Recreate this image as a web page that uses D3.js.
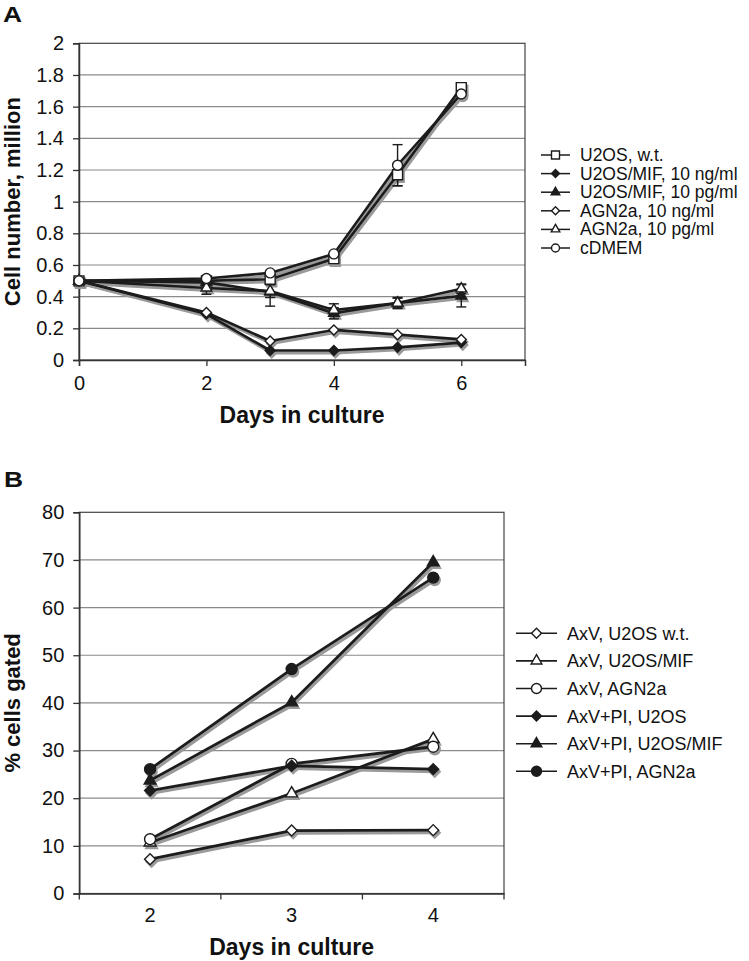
<!DOCTYPE html>
<html><head><meta charset="utf-8">
<script src="https://cdn.jsdelivr.net/npm/d3@7"></script>
<style>
body{margin:0;background:#fff}
text{font-family:"Liberation Sans",Arial,sans-serif;fill:#111}
</style></head><body>
<svg id="c" width="749" height="961"></svg>
<script>
// ---------- Panel A data ----------
const daysA = [0, 2, 3, 4, 5, 6];
const namesA = ["U2OS, w.t.", "U2OS/MIF, 10 ng/ml", "U2OS/MIF, 10 pg/ml", "AGN2a, 10 ng/ml", "AGN2a, 10 pg/ml", "cDMEM"];
const shapesA = ["square", "diamond", "triangle", "diamond", "triangle", "circle"];
const filledA = [false, true, true, false, false, false];
const u2osWT   = [0.50, 0.50, 0.51, 0.64, 1.17, 1.72];
const mif10ng  = [0.50, 0.29, 0.06, 0.06, 0.08, 0.11];
const mif10pg  = [0.50, 0.49, 0.43, 0.295, 0.36, 0.405];
const agn10ng  = [0.50, 0.30, 0.12, 0.19, 0.16, 0.13];
const agn10pg  = [0.50, 0.455, 0.435, 0.315, 0.36, 0.45];
const cdmem    = [0.50, 0.515, 0.55, 0.67, 1.23, 1.68];
const errU2osWT  = [0, 0, 0.02, 0.02, 0.07, 0.02];
const errMif10ng = [0, 0, 0, 0, 0, 0];
const errMif10pg = [0, 0, 0.09, 0.035, 0.03, 0.07];
const errAgn10ng = [0, 0, 0, 0, 0, 0];
const errAgn10pg = [0, 0.04, 0.04, 0.04, 0.035, 0.03];
const errCdmem   = [0, 0, 0, 0, 0.13, 0];
const valuesA = [u2osWT, mif10ng, mif10pg, agn10ng, agn10pg, cdmem];
const errorsA = [errU2osWT, errMif10ng, errMif10pg, errAgn10ng, errAgn10pg, errCdmem];
const yTicksA = [0, 0.2, 0.4, 0.6, 0.8, 1, 1.2, 1.4, 1.6, 1.8, 2];
const xTicksA = [0, 2, 4, 6];

// ---------- Panel B data ----------
const daysB = ["2", "3", "4"];
const namesB = ["AxV, U2OS w.t.", "AxV, U2OS/MIF", "AxV, AGN2a", "AxV+PI, U2OS", "AxV+PI, U2OS/MIF", "AxV+PI, AGN2a"];
const shapesB = ["diamond", "triangle", "circle", "diamond", "triangle", "circle"];
const filledB = [false, false, false, true, true, true];
const axvU2os     = [7.2, 13.2, 13.3];
const axvMif      = [10.7, 21.0, 32.4];
const axvAgn      = [11.4, 27.2, 30.8];
const axvPiU2os   = [21.6, 26.8, 26.1];
const axvPiMif    = [23.7, 40.1, 69.5];
const axvPiAgn    = [26.1, 47.1, 66.3];
const valuesB = [axvU2os, axvMif, axvAgn, axvPiU2os, axvPiMif, axvPiAgn];
const yTicksB = [0, 10, 20, 30, 40, 50, 60, 70, 80];

const svg = d3.select("#c");
svg.append("rect").attr("width", 749).attr("height", 961).attr("fill", "#fff");

const DARK = "#1c1c1c", SHADOW = "#9a9a9a", GRID = "#8a8a8a";

function symPath(shape, s) {
  if (shape === "square") return d3.symbol(d3.symbolSquare, s * s)();
  if (shape === "diamond") return d3.symbol(d3.symbolSquare, s * s / 2)();
  if (shape === "triangle") return d3.symbol(d3.symbolTriangle, s * s * 0.5)();
  return d3.symbol(d3.symbolCircle, Math.PI * s * s / 4)();
}
function drawMarker(g, shape, filled, x, y, s, shadow) {
  const p = g.append("path").attr("d", symPath(shape, s))
    .attr("transform", `translate(${x},${y})` + (shape === "diamond" ? " rotate(45)" : ""));
  if (shadow) p.attr("fill", SHADOW).attr("stroke", SHADOW).attr("stroke-width", 1.5);
  else p.attr("fill", filled ? DARK : "#fff").attr("stroke", DARK).attr("stroke-width", 1.4);
}

// ================= Panel A =================
{
  const L = 79, R = 525, T = 43.3, B = 360;
  const x = d3.scaleLinear().domain([0, 7]).range([L, R]);
  const y = d3.scaleLinear().domain([0, 2]).range([B, T]);
  const g = svg.append("g");

  g.append("text").text("A").attr("x", 3).attr("y", 22).attr("font-size", 22).attr("font-weight", "bold")
    .attr("transform", "translate(3,22) scale(1.2,1) translate(-3,-22)");

  // gridlines
  g.append("g").selectAll("line").data(yTicksA.filter(d => d > 0 && d < 2)).join("line")
    .attr("x1", L).attr("x2", R).attr("y1", d => y(d)).attr("y2", d => y(d))
    .attr("stroke", GRID).attr("stroke-width", 1.2);
  // frame
  g.append("rect").attr("x", L).attr("y", T).attr("width", R - L).attr("height", B - T)
    .attr("fill", "none").attr("stroke", "#444").attr("stroke-width", 1.2);

  const yAxis = d3.axisLeft(y).tickValues(yTicksA).tickSize(6).tickPadding(9).tickFormat(d3.format("~g"));
  const ya = g.append("g").attr("transform", `translate(${L},0)`).call(yAxis);
  const xAxis = d3.axisBottom(x).tickValues(xTicksA).tickSize(6).tickPadding(10).tickFormat(d3.format("d"));
  const xa = g.append("g").attr("transform", `translate(0,${B})`).call(xAxis);
  [ya, xa].forEach(a => {
    a.select(".domain").attr("stroke", "#333").attr("stroke-width", 1.5);
    a.selectAll(".tick line").attr("stroke", "#333").attr("stroke-width", 1.3);
    a.selectAll("text").attr("font-size", 20).attr("fill", "#111").attr("font-family", '"Liberation Sans",Arial,sans-serif');
  });

  g.append("text").text("Days in culture").attr("x", (L + R) / 2).attr("y", 423)
    .attr("text-anchor", "middle").attr("font-size", 23).attr("font-weight", "bold");
  g.append("text").text("Cell number, million").attr("transform", `translate(20,${(T + B) / 2}) rotate(-90)`)
    .attr("text-anchor", "middle").attr("font-size", 22).attr("font-weight", "bold");

  const line = d3.line().x((d, i) => x(daysA[i])).y(d => y(d));
  const off = "translate(1.5,2.5)";
  const sh = g.append("g").attr("transform", off);
  valuesA.forEach((v) => sh.append("path").attr("d", line(v)).attr("fill", "none").attr("stroke", SHADOW).attr("stroke-width", 3));
  valuesA.forEach((v, k) => v.forEach((d, i) => drawMarker(sh, shapesA[k], filledA[k], x(daysA[i]), y(d), 10, true)));
  valuesA.forEach((v) => g.append("path").attr("d", line(v)).attr("fill", "none").attr("stroke", DARK).attr("stroke-width", 2.6).attr("stroke-linejoin", "round"));
  const eg = g.append("g").attr("stroke", DARK).attr("stroke-width", 1.4);
  valuesA.forEach((v, k) => v.forEach((d, i) => {
    const e = errorsA[k][i];
    if (!e) return;
    const cx = x(daysA[i]);
    eg.append("line").attr("x1", cx).attr("x2", cx).attr("y1", y(d - e)).attr("y2", y(d + e));
    [d - e, d + e].forEach(w => eg.append("line").attr("x1", cx - 5).attr("x2", cx + 5).attr("y1", y(w)).attr("y2", y(w)));
  }));
  valuesA.forEach((v, k) => v.forEach((d, i) => drawMarker(g, shapesA[k], filledA[k], x(daysA[i]), y(d), 10, false)));

  const lg = g.append("g");
  namesA.forEach((n, k) => {
    const cy = 155 + k * 18.6;
    lg.append("line").attr("x1", 541).attr("x2", 570).attr("y1", cy).attr("y2", cy).attr("stroke", DARK).attr("stroke-width", 1.5);
    drawMarker(lg, shapesA[k], filledA[k], 555.5, cy, 8, false);
    lg.append("text").text(n).attr("x", 580).attr("y", cy + 6).attr("font-size", 17.5);
  });
}

// ================= Panel B =================
{
  const L = 79.3, R = 504, T = 512.3, B = 893.5;
  const x = d3.scaleBand().domain(daysB).range([L, R]);
  const y = d3.scaleLinear().domain([0, 80]).range([B, T]);
  const g = svg.append("g");

  g.append("text").text("B").attr("x", 4).attr("y", 487).attr("font-size", 22).attr("font-weight", "bold")
    .attr("transform", "translate(4,487) scale(1.2,1) translate(-4,-487)");

  g.append("g").selectAll("line").data(yTicksB.filter(d => d > 0 && d < 80)).join("line")
    .attr("x1", L).attr("x2", R).attr("y1", d => y(d)).attr("y2", d => y(d))
    .attr("stroke", GRID).attr("stroke-width", 1.2);
  g.append("rect").attr("x", L).attr("y", T).attr("width", R - L).attr("height", B - T)
    .attr("fill", "none").attr("stroke", "#444").attr("stroke-width", 1.2);

  const yAxis = d3.axisLeft(y).tickValues(yTicksB).tickSize(6).tickPadding(9);
  const ya = g.append("g").attr("transform", `translate(${L},0)`).call(yAxis);
  const xAxis = d3.axisBottom(x).tickSize(0).tickPadding(14);
  const xa = g.append("g").attr("transform", `translate(0,${B})`).call(xAxis);
  const bounds = daysB.map(d => x(d)).concat([R]);
  xa.selectAll(".bt").data(bounds).join("line").attr("class", "bt")
    .attr("x1", d => d).attr("x2", d => d).attr("y1", 0).attr("y2", 6).attr("stroke", "#333").attr("stroke-width", 1.3);
  [ya, xa].forEach(a => {
    a.select(".domain").attr("stroke", "#333").attr("stroke-width", 1.5);
    a.selectAll(".tick line").attr("stroke", "#333").attr("stroke-width", 1.3);
    a.selectAll("text").attr("font-size", 20).attr("fill", "#111").attr("font-family", '"Liberation Sans",Arial,sans-serif');
  });

  g.append("text").text("Days in culture").attr("x", (L + R) / 2).attr("y", 955)
    .attr("text-anchor", "middle").attr("font-size", 23).attr("font-weight", "bold");
  g.append("text").text("% cells gated").attr("transform", `translate(20,${(T + B) / 2}) rotate(-90)`)
    .attr("text-anchor", "middle").attr("font-size", 22).attr("font-weight", "bold");

  const cx = d => x(d) + x.bandwidth() / 2;
  const line = d3.line().x((d, i) => cx(daysB[i])).y(d => y(d));
  const sh = g.append("g").attr("transform", "translate(1.5,2.5)");
  valuesB.forEach(v => sh.append("path").attr("d", line(v)).attr("fill", "none").attr("stroke", SHADOW).attr("stroke-width", 3.2));
  valuesB.forEach((v, k) => v.forEach((d, i) => drawMarker(sh, shapesB[k], filledB[k], cx(daysB[i]), y(d), 11, true)));
  valuesB.forEach(v => g.append("path").attr("d", line(v)).attr("fill", "none").attr("stroke", DARK).attr("stroke-width", 2.8).attr("stroke-linejoin", "round"));
  valuesB.forEach((v, k) => v.forEach((d, i) => drawMarker(g, shapesB[k], filledB[k], cx(daysB[i]), y(d), 11, false)));

  const lg = g.append("g");
  namesB.forEach((n, k) => {
    const cy = 633.3 + k * 27.6;
    lg.append("line").attr("x1", 516).attr("x2", 557).attr("y1", cy).attr("y2", cy).attr("stroke", DARK).attr("stroke-width", 1.6);
    drawMarker(lg, shapesB[k], filledB[k], 536.5, cy, 10, false);
    lg.append("text").text(n).attr("x", 567).attr("y", cy + 6.5).attr("font-size", 18);
  });
}
</script>
</body></html>
